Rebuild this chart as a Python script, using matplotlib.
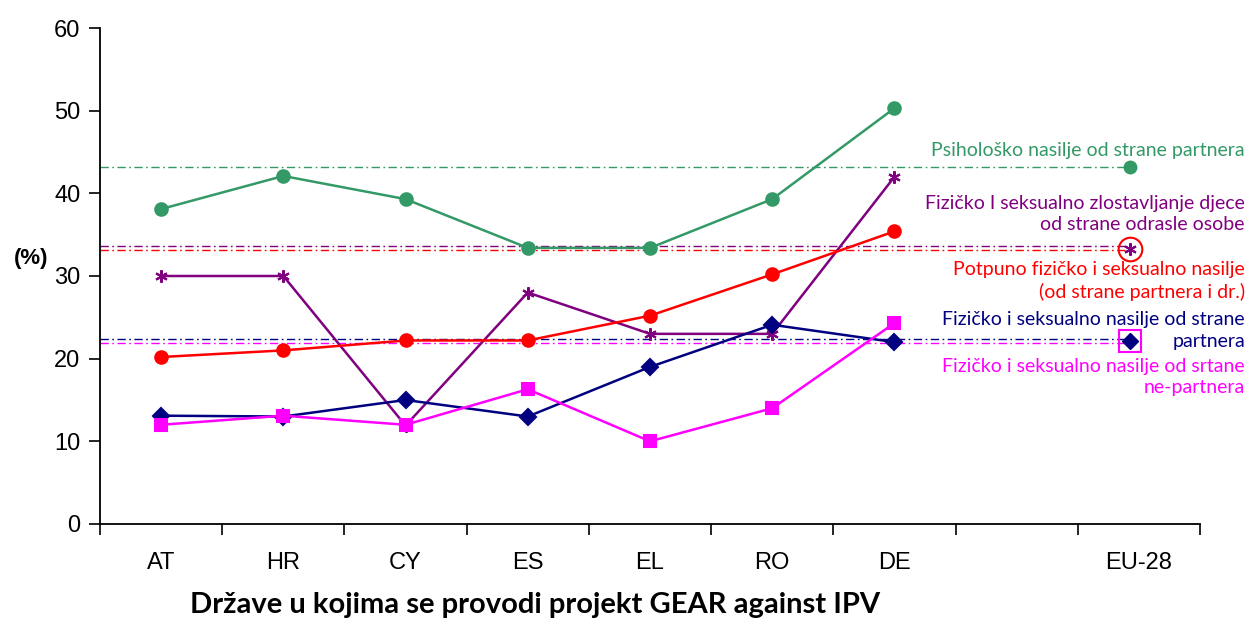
import matplotlib
matplotlib.use("Agg")
import matplotlib.pyplot as plt
import matplotlib.transforms as mtransforms
import numpy as np

# Kategorije (prazno mjesto prije EU-28)
zemlje = ["AT", "HR", "CY", "ES", "EL", "RO", "DE", "", "EU-28"]

# Vrijednosti po zemljama (AT..DE)
psiholosko = [38.1, 42.1, 39.3, 33.4, 33.4, 39.3, 50.3]
potpuno = [20.2, 21.0, 22.2, 22.2, 25.2, 30.2, 35.4]
djeca = [30.0, 30.0, 11.9, 28.0, 23.0, 23.0, 42.0]
partner = [13.1, 13.0, 15.0, 13.0, 19.0, 24.1, 22.0]
ne_partner = [12.0, 13.1, 12.0, 16.3, 10.0, 14.0, 24.3]

# EU-28 prosjeci (vodoravne crte)
eu_psiholosko = 43.2
eu_potpuno = 33.1
eu_djeca = 33.6
eu_partner = 22.4
eu_ne_partner = 21.9

serije = [
    (psiholosko, eu_psiholosko, "#339966", "o", 9,
     "Psihološko nasilje od strane partnera"),
    (djeca, eu_djeca, "#800080", (6, 2, 0), 9,
     "Fizičko I seksualno zlostavljanje djece\nod strane odrasle osobe"),
    (potpuno, eu_potpuno, "#ff0000", "o", 9,
     "Potpuno fizičko i seksualno nasilje\n(od strane partnera i dr.)"),
    (partner, eu_partner, "#000080", "D", 8,
     "Fizičko i seksualno nasilje od strane\npartnera"),
    (ne_partner, eu_ne_partner, "#ff00ff", "s", 8,
     "Fizičko i seksualno nasilje od srtane\nne-partnera"),
]
label_y = [45.2, 37.5, 29.4, 23.4, 17.8]

fig = plt.figure(figsize=(12.5, 6.24), dpi=100)
ax = fig.add_axes([0.08, 0.1603, 0.88, 0.7948])
trans = mtransforms.blended_transform_factory(fig.transFigure, ax.transData)

x = np.arange(len(zemlje))
eu_x = 8 - 0.07

for (vals, eu, col, mk, ms, txt), ly in zip(serije, label_y):
    ax.plot(x[:len(vals)], vals, color=col, lw=1.8, marker=mk, ms=ms,
            mec=col, mfc=col, mew=1.5, zorder=3)
    ax.plot([-0.5, eu_x], [eu, eu], color=col, lw=1.0,
            dashes=(6, 2.5, 1.2, 2.5), zorder=2)
    ax.text(0.996, ly, txt, color=col, ha="right", va="center", fontsize=14,
            family="Lato", linespacing=1.3, transform=trans, clip_on=False)

# EU-28 oznake
ax.plot(eu_x, eu_psiholosko, "o", color="#339966", ms=9, zorder=4)
ax.plot(eu_x, eu_djeca - 0.3, marker=(6, 2, 0), color="#800080", ms=9, mew=1.5, zorder=4)
ax.plot(eu_x, eu_djeca - 0.3, "o", mfc="none", mec="#ff0000", ms=17, mew=1.5, zorder=4)
ax.plot(eu_x, eu_partner - 0.3, "D", color="#000080", ms=8, zorder=4)
ax.plot(eu_x, eu_partner - 0.3, "s", mfc="none", mec="#ff00ff", ms=16, mew=1.5, zorder=4)

ax.set_xlim(-0.5, 8.5)
ax.set_ylim(0, 60)
ax.set_yticks(range(0, 61, 10))
ax.set_xticks(np.arange(-0.5, 9.0, 1.0))
ax.set_xticklabels([])
ax.set_xticks(x, minor=True)
ax.set_xticklabels(zemlje, minor=True)
ax.tick_params(axis="x", which="major", direction="out", length=8, width=1.2)
ax.tick_params(axis="x", which="minor", length=0, pad=20, labelsize=17)
ax.tick_params(axis="y", direction="out", length=8, width=1.2, labelsize=17, pad=6)
for s in ["top", "right"]:
    ax.spines[s].set_visible(False)
for s in ["left", "bottom"]:
    ax.spines[s].set_linewidth(1.3)

for lab in ax.get_xticklabels(minor=True) + ax.get_yticklabels():
    lab.set_family("Liberation Sans")

fig.text(0.011, 0.586, "(%)", fontsize=16, fontweight="bold",
         family="Liberation Sans", va="center")
fig.text(0.428, 0.03, "Države u kojima se provodi projekt GEAR against IPV",
         fontsize=21, fontweight="bold", family="Lato", ha="center", va="center")

fig.savefig("out.png", dpi=100)
